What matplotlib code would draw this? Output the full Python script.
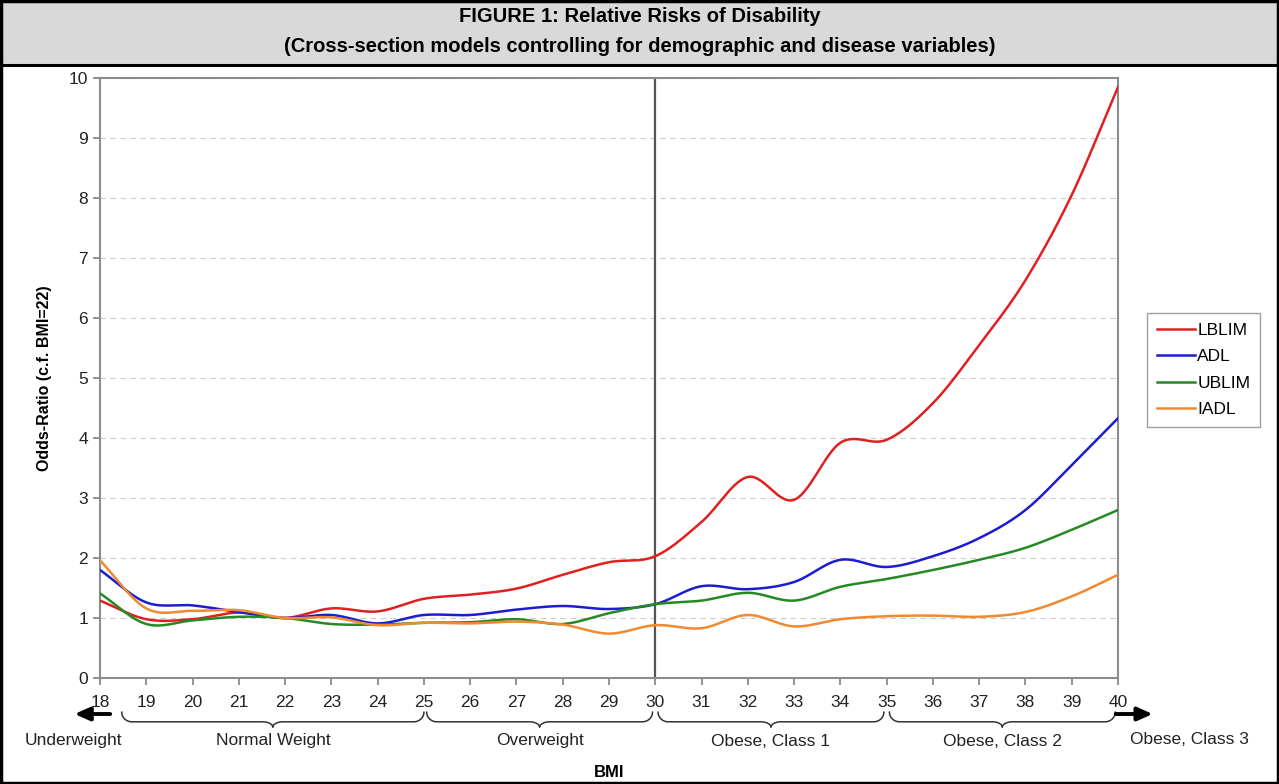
import numpy as np
import matplotlib.pyplot as plt
from matplotlib.patches import Rectangle
from matplotlib.transforms import blended_transform_factory

plt.rcParams['font.family'] = ['Liberation Sans', 'DejaVu Sans']

# BMI values and odds ratios
bmi = [18, 19, 20, 21, 22, 23, 24, 25, 26, 27, 28, 29,
       30, 31, 32, 33, 34, 35, 36, 37, 38, 39, 40]
lblim = [1.29, 0.98, 0.98, 1.09, 1.0, 1.16, 1.11, 1.32, 1.39, 1.49, 1.72, 1.93,
         2.03, 2.6, 3.35, 2.97, 3.92, 3.97, 4.58, 5.55, 6.63, 8.05, 9.85]
adl = [1.8, 1.26, 1.21, 1.1, 1.0, 1.05, 0.91, 1.05, 1.05, 1.14, 1.2, 1.15,
       1.23, 1.53, 1.48, 1.6, 1.97, 1.85, 2.03, 2.33, 2.8, 3.55, 4.33]
ublim = [1.41, 0.9, 0.96, 1.02, 1.0, 0.9, 0.89, 0.92, 0.93, 0.98, 0.9, 1.08,
         1.23, 1.29, 1.42, 1.29, 1.52, 1.65, 1.8, 1.97, 2.17, 2.47, 2.8]
iadl = [1.96, 1.16, 1.12, 1.13, 1.0, 1.01, 0.88, 0.92, 0.91, 0.94, 0.89, 0.74,
        0.88, 0.83, 1.05, 0.86, 0.98, 1.03, 1.04, 1.02, 1.1, 1.36, 1.72]

series = [("LBLIM", lblim, "#e02020"), ("ADL", adl, "#1c1cd0"),
          ("UBLIM", ublim, "#248a24"), ("IADL", iadl, "#f08a30")]

# weight classes: (label, start bmi, end bmi)
classes = [("Normal Weight", 18.47, 25.0), ("Overweight", 25.06, 29.94),
           ("Obese, Class 1", 30.06, 34.94), ("Obese, Class 2", 35.06, 39.94)]


def smooth(x, y, n=30):
    # catmull-rom style smoothing, like the smoothed lines of a spreadsheet
    x = np.asarray(x, float)
    y = np.asarray(y, float)
    px = np.concatenate([[2 * x[0] - x[1]], x, [2 * x[-1] - x[-2]]])
    py = np.concatenate([[2 * y[0] - y[1]], y, [2 * y[-1] - y[-2]]])
    xs, ys = [], []
    t = np.linspace(0, 1, n, endpoint=False)
    for i in range(1, len(px) - 2):
        p0, p1, p2, p3 = py[i - 1], py[i], py[i + 1], py[i + 2]
        q0, q1, q2, q3 = px[i - 1], px[i], px[i + 1], px[i + 2]
        for a, b, c, d, out in ((q0, q1, q2, q3, xs), (p0, p1, p2, p3, ys)):
            out.extend(0.5 * (2 * b + (-a + c) * t + (2 * a - 5 * b + 4 * c - d) * t ** 2
                              + (-a + 3 * b - 3 * c + d) * t ** 3))
    xs.append(x[-1])
    ys.append(y[-1])
    return np.array(xs), np.array(ys)


def brace(x0, x1, ya=-0.057, yb=-0.073, yc=-0.082, r=0.22, n=20):
    xm = (x0 + x1) / 2
    t1 = np.linspace(np.pi, 1.5 * np.pi, n)
    t2 = np.linspace(0.5 * np.pi, 0, n)
    lx = np.concatenate([x0 + r + r * np.cos(t1), xm - r + r * np.cos(t2)])
    ly = np.concatenate([ya + (ya - yb) * np.sin(t1), yc + (yb - yc) * np.sin(t2)])
    rx = 2 * xm - lx[::-1]
    ry = ly[::-1]
    return np.concatenate([lx, rx]), np.concatenate([ly, ry])


fig = plt.figure(figsize=(12.79, 7.84), dpi=100)

# title band and frame
fig.patches.append(Rectangle((0, 1 - 65 / 784), 1, 65 / 784, transform=fig.transFigure,
                             facecolor="#d9d9d9", edgecolor="none", zorder=0))
fig.add_artist(plt.Line2D([0, 1], [1 - 65 / 784] * 2, color="black", lw=2.2,
                          transform=fig.transFigure))
fig.patches.append(Rectangle((0.001, 0.001), 0.998, 0.998, transform=fig.transFigure,
                             facecolor="none", edgecolor="black", lw=2.5, zorder=5))
fig.text(0.5, 1 - 16 / 784, "FIGURE 1: Relative Risks of Disability", ha="center",
         va="center", fontsize=14.5, fontweight="bold")
fig.text(0.5, 1 - 47 / 784,
         "(Cross-section models controlling for demographic and disease variables)",
         ha="center", va="center", fontsize=14.5, fontweight="bold")

ax = fig.add_axes([100 / 1279, 1 - 678 / 784, 1018 / 1279, 600 / 784])
for name, vals, col in series:
    sx, sy = smooth(bmi, vals)
    ax.plot(sx, sy, color=col, lw=1.8, label=name, zorder=3)

ax.axvline(30, color="#555555", lw=1.6, zorder=2)
ax.set_xlim(18, 40)
ax.set_ylim(0, 10)
ax.set_xticks(bmi)
ax.set_yticks(range(11))
ax.tick_params(axis="both", colors="#808080", labelcolor="#222222", labelsize=12.5,
               length=5, width=1.2)
ax.tick_params(axis="x", pad=7)
ax.grid(axis="y", color="#cccccc", ls=(0, (5, 4)), lw=0.8)
for s in ax.spines.values():
    s.set_color("#8c8c8c")
    s.set_linewidth(1.5)
ax.set_ylabel("Odds-Ratio (c.f. BMI=22)", fontsize=11.5, fontweight="bold", labelpad=12)

tr = blended_transform_factory(ax.transData, ax.transAxes)
for label, a, b in classes:
    bx, by = brace(a, b)
    ax.plot(bx, by, color="#333333", lw=1.1, transform=tr, clip_on=False)
    ax.text((a + b) / 2, -0.105, label, transform=tr, ha="center", va="center",
            fontsize=12.5, color="#222222")
ax.text(17.42, -0.105, "Underweight", transform=tr, ha="center", va="center",
        fontsize=12.5, color="#222222")
ax.text(41.55, -0.103, "Obese, Class 3", transform=tr, ha="center", va="center",
        fontsize=12.5, color="#222222")
ax.annotate("", xy=(17.45, -0.06), xytext=(18.22, -0.06), xycoords=tr, textcoords=tr,
            arrowprops=dict(arrowstyle="-|>,head_length=0.9,head_width=0.4", color="black",
                            lw=2.8, shrinkA=0, shrinkB=0), annotation_clip=False)
ax.annotate("", xy=(40.75, -0.06), xytext=(39.95, -0.06), xycoords=tr, textcoords=tr,
            arrowprops=dict(arrowstyle="-|>,head_length=0.9,head_width=0.4", color="black",
                            lw=2.8, shrinkA=0, shrinkB=0), annotation_clip=False)
ax.text(29, -0.158, "BMI", transform=tr, ha="center", va="center", fontsize=12,
        fontweight="bold")

ax.legend(loc="center left", bbox_to_anchor=(1147 / 1279, 1 - 370 / 784),
          bbox_transform=fig.transFigure, fontsize=12.5, frameon=True, fancybox=False,
          edgecolor="#888888", handlelength=2.2, handletextpad=0.15, labelspacing=0.65,
          borderpad=0.55, borderaxespad=0)

fig.savefig("out.png", dpi=100)
